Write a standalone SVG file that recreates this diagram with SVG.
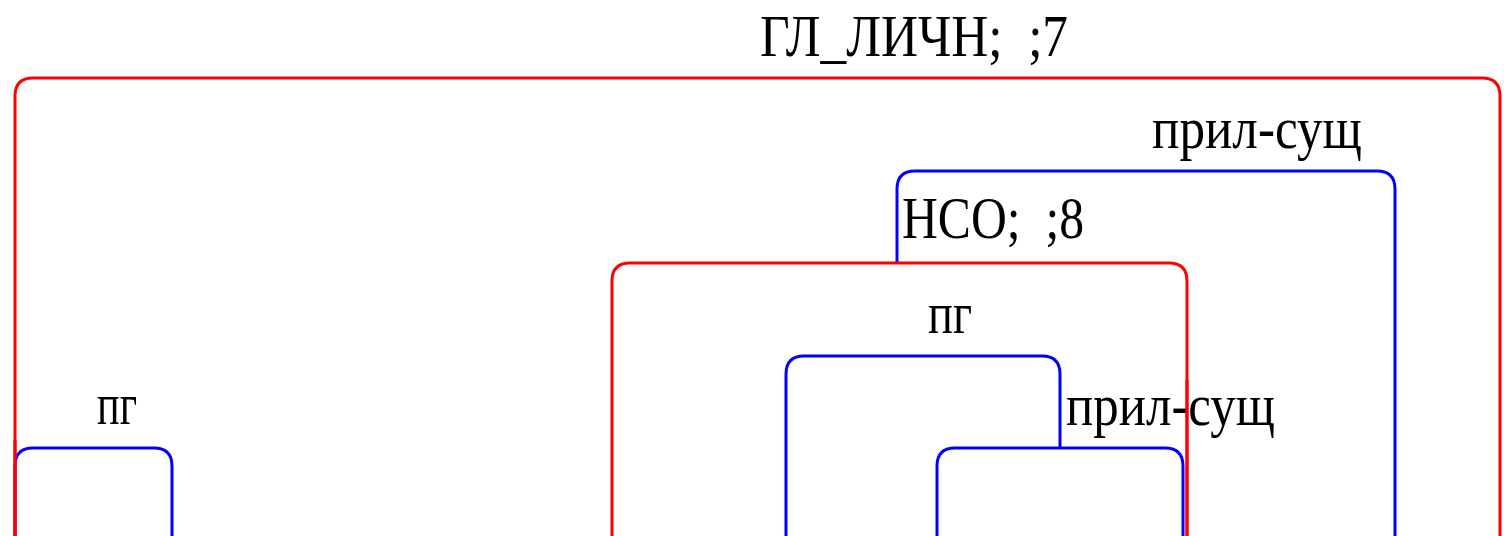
<svg xmlns="http://www.w3.org/2000/svg" width="1504" height="536" viewBox="0 0 1504 536">
  <style>
    .lbl { font-family: "Liberation Serif", "Times New Roman", serif; font-size: 60px; fill: #000; white-space: pre; }
    .red { fill: none; stroke: #ff0000; stroke-width: 3; }
    .blue { fill: none; stroke: #0000ff; stroke-width: 3; }
  </style>
  <rect width="1504" height="536" fill="#ffffff"/>

  <!-- brackets: each drawn as an open frame with rounded top corners -->
  <g id="pg-left">
    <path class="blue" d="M15,536 V466 Q15,448 33,448 H154 Q172,448 172,466 V536"/>
    <text class="lbl" x="97" y="424" textLength="40" lengthAdjust="spacingAndGlyphs">пг</text>
  </g>

  <g id="gl-lichn">
    <path class="red" d="M15,536 V96 Q15,78 33,78 H1482 Q1500,78 1500,96 V536"/>
    <text class="lbl" x="760" y="56" textLength="308" lengthAdjust="spacingAndGlyphs" xml:space="preserve">ГЛ_ЛИЧН;  ;7</text>
  </g>

  <g id="pril-sush-top">
    <path class="blue" d="M897,263 V189 Q897,171 915,171 H1377 Q1395,171 1395,189 V536"/>
    <text class="lbl" x="1152" y="148" textLength="210" lengthAdjust="spacingAndGlyphs">прил-сущ</text>
  </g>

  <g id="nso">
    <path class="red" d="M612,536 V281 Q612,263 630,263 H1169 Q1187,263 1187,281 V536"/>
    <text class="lbl" x="902" y="238" textLength="182" lengthAdjust="spacingAndGlyphs" xml:space="preserve">НСО;  ;8</text>
  </g>

  <g id="pg-mid">
    <path class="blue" d="M786,536 V374 Q786,356 804,356 H1042 Q1060,356 1060,374 V448"/>
    <text class="lbl" x="928" y="333" textLength="44" lengthAdjust="spacingAndGlyphs">пг</text>
  </g>

  <g id="pril-sush-low">
    <path class="blue" d="M937,536 V466 Q937,448 955,448 H1165 Q1183,448 1183,466 V536"/>
    <text class="lbl" x="1066" y="425" textLength="209" lengthAdjust="spacingAndGlyphs">прил-сущ</text>
  </g>

  <!-- red legs repainted above the blue frames they overlap -->
  <g id="connectors">
    <path class="red" d="M15,536 V440"/>
    <path class="red" d="M1187,536 V380"/>
  </g>
</svg>
